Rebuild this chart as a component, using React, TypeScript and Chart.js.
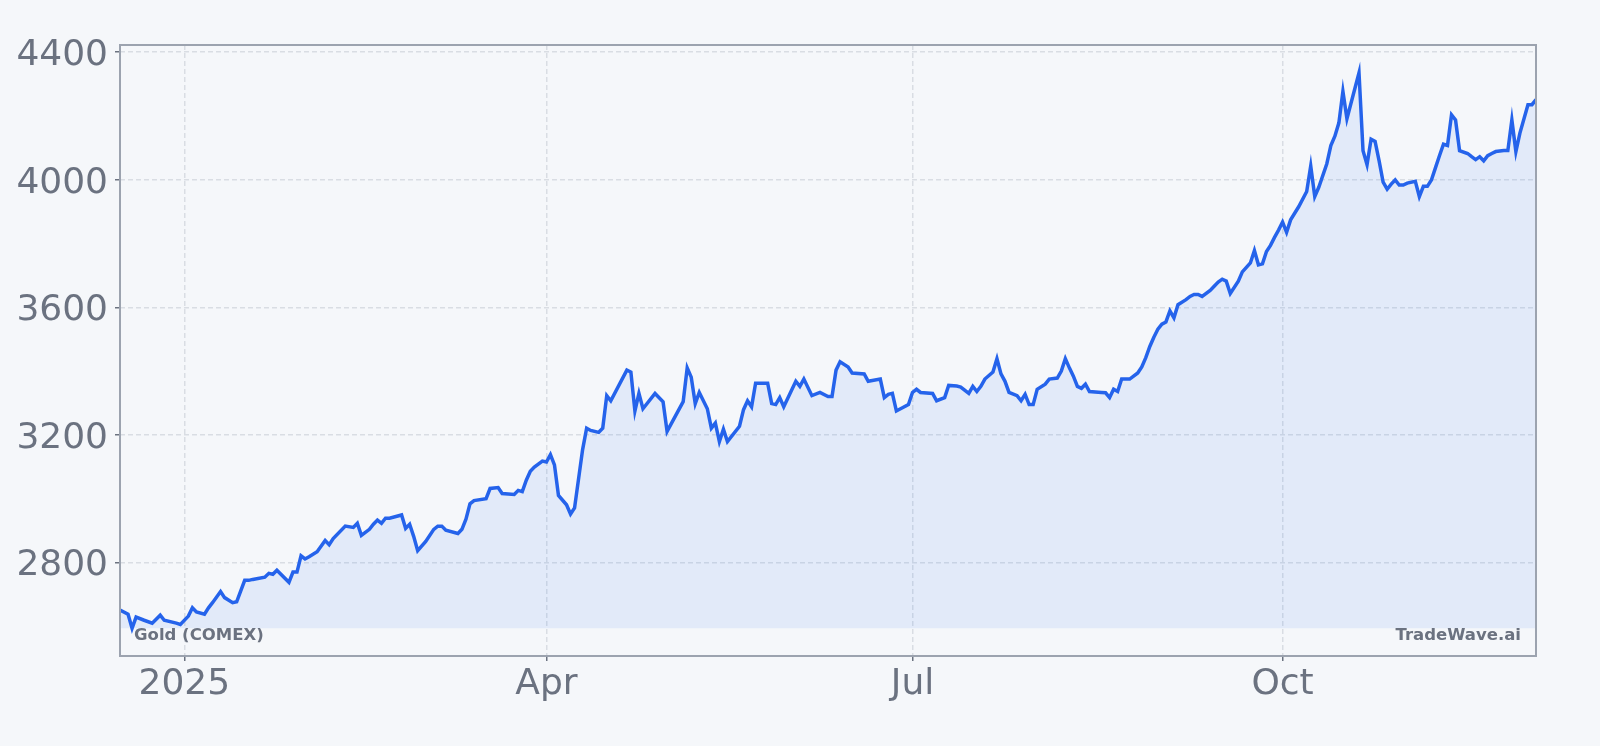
import React, { useEffect, useRef } from 'react';
import { Chart, registerables } from 'chart.js';

Chart.register(...registerables);

// x = calendar day counted from 1 Jan 2025 (day 0), y = settle price in USD/oz
const days = [
  -16, -14, -13, -12, -10, -8, -6, -5, -2, -1, 1, 2, 3, 5, 6, 7, 9, 10, 12, 13,
  15, 16, 17, 20, 21, 22, 23, 24, 26, 27, 28, 29, 30, 31, 33, 35, 36, 37, 40, 42,
  43, 44, 46, 47, 48, 49, 50, 51, 54, 55, 56, 57, 58, 60, 62, 63, 64, 65, 68, 69,
  70, 71, 72, 75, 76, 78, 79, 82, 83, 84, 85, 86, 87, 89, 90, 91, 92, 93, 95, 96,
  97, 99, 100, 101, 103, 104, 105, 106, 110, 111, 112, 113, 114, 117, 119, 120, 124, 125, 126, 127,
  128, 130, 131, 132, 133, 134, 135, 138, 139, 140, 141, 142, 145, 146, 147, 148, 149, 152, 153, 154,
  156, 158, 160, 161, 162, 163, 165, 166, 169, 170, 173, 174, 175, 176, 177, 180, 181, 182, 183, 186,
  187, 189, 190, 192, 193, 195, 196, 197, 198, 199, 201, 202, 203, 204, 205, 207, 208, 209, 210, 211,
  212, 214, 215, 217, 218, 219, 220, 221, 222, 223, 224, 225, 228, 229, 230, 231, 232, 233, 235, 237,
  238, 239, 240, 241, 242, 243, 244, 245, 246, 247, 249, 250, 251, 252, 253, 255, 256, 257, 258, 259,
  260, 262, 263, 265, 266, 267, 268, 269, 270, 271, 272, 273, 274, 275, 277, 279, 280, 281, 282, 284,
  285, 286, 287, 288, 289, 292, 293, 294, 295, 296, 297, 298, 299, 300, 301, 302, 303, 304, 306, 307,
  308, 309, 310, 311, 312, 313, 314, 315, 316, 317, 319, 320, 321, 322, 323, 324, 325, 326, 328, 329,
  330, 331, 332, 334, 335, 336,
];

const prices = [
  2651, 2638, 2594, 2629, 2619, 2610, 2635, 2619, 2610, 2606, 2632, 2658, 2645, 2638, 2658, 2674, 2709, 2690, 2674, 2677,
  2744, 2744, 2747, 2754, 2766, 2763, 2776, 2763, 2738, 2770, 2770, 2821, 2811, 2818, 2834, 2869, 2856, 2875, 2914, 2910,
  2923, 2885, 2904, 2920, 2933, 2923, 2939, 2939, 2949, 2907, 2920, 2882, 2837, 2866, 2904, 2914, 2914, 2901, 2891, 2904,
  2936, 2984, 2994, 3000, 3032, 3035, 3016, 3013, 3026, 3022, 3058, 3086, 3099, 3118, 3115, 3138, 3106, 3010, 2981, 2952,
  2971, 3154, 3221, 3214, 3208, 3221, 3323, 3307, 3403, 3397, 3275, 3330, 3282, 3330, 3304, 3211, 3304, 3410, 3381, 3298,
  3333, 3282, 3221, 3237, 3179, 3218, 3179, 3227, 3279, 3307, 3288, 3362, 3362, 3298, 3295, 3317, 3288, 3368, 3352, 3375,
  3323, 3333, 3320, 3320, 3403, 3429, 3413, 3394, 3391, 3368, 3375, 3317, 3327, 3330, 3275, 3295, 3333, 3343, 3333, 3330,
  3307, 3317, 3355, 3353, 3350, 3330, 3352, 3336, 3352, 3375, 3397, 3439, 3391, 3368, 3333, 3323, 3307, 3327, 3295, 3295,
  3343, 3359, 3375, 3378, 3400, 3439, 3410, 3384, 3352, 3346, 3359, 3336, 3333, 3332, 3317, 3343, 3336, 3375, 3375, 3394,
  3413, 3442, 3477, 3506, 3531, 3547, 3554, 3589, 3567, 3608, 3624, 3634, 3640, 3640, 3634, 3653, 3666, 3679, 3688, 3682,
  3643, 3682, 3711, 3739, 3778, 3733, 3736, 3775, 3794, 3819, 3842, 3867, 3835, 3874, 3915, 3963, 4043, 3947, 3976, 4050,
  4107, 4136, 4178, 4277, 4191, 4335, 4091, 4047, 4127, 4120, 4059, 3992, 3970, 3986, 3999, 3983, 3983, 3989, 3995, 3947,
  3979, 3979, 3999, 4037, 4075, 4111, 4107, 4203, 4187, 4091, 4082, 4072, 4063, 4072, 4059, 4075, 4082, 4088, 4091, 4091,
  4187, 4088, 4146, 4235, 4235, 4251,
];

// 1 Jan, 1 Apr, 1 Jul, 1 Oct
const tickDays = [0, 90, 181, 273];
const tickLabels = ['2025', 'Apr', 'Jul', 'Oct'];
const priceTicks = [2800, 3200, 3600, 4000, 4400];

const seriesName = 'Gold (COMEX)';
const brandName = 'TradeWave.ai';

const GRAY = '#6b7280';
const GRID = '#d9dde3';

const framePlugin = {
  id: 'frame',
  afterDatasetsDraw(chart: any) {
    const { ctx, chartArea: a } = chart;
    ctx.save();
    ctx.font = 'bold 16.5px "DejaVu Sans"';
    ctx.fillStyle = GRAY;
    ctx.textBaseline = 'alphabetic';
    ctx.textAlign = 'left';
    ctx.fillText(seriesName, a.left + 14, a.bottom - 16);
    ctx.textAlign = 'right';
    ctx.fillText(brandName, a.right - 15, a.bottom - 16);
    ctx.strokeStyle = '#9ca3af';
    ctx.lineWidth = 2;
    ctx.strokeRect(a.left, a.top, a.right - a.left, a.bottom - a.top);
    ctx.restore();
  },
};

const App: React.FC = () => {
  const canvasRef = useRef<HTMLCanvasElement | null>(null);

  useEffect(() => {
    if (!canvasRef.current) return;
    const ctx = canvasRef.current.getContext('2d');
    if (!ctx) return;

    Chart.defaults.font.family = '"DejaVu Sans"';

    const lo = Math.min(...prices);
    const hi = Math.max(...prices);
    const pad = (hi - lo) * 0.05;

    const chart = new Chart(ctx, {
      type: 'line',
      data: {
        datasets: [
          {
            label: seriesName,
            data: days.map((d, i) => ({ x: d, y: prices[i] })),
            borderColor: '#2563eb',
            borderWidth: 3.5,
            backgroundColor: 'rgba(59, 130, 246, 0.1)',
            fill: { value: lo },
            pointRadius: 0,
            tension: 0,
          },
        ],
      },
      options: {
        animation: false,
        responsive: true,
        maintainAspectRatio: false,
        layout: { padding: { top: 45, right: 64, left: 0, bottom: 0 } },
        plugins: {
          legend: { display: false },
          tooltip: { enabled: false },
        },
        scales: {
          x: {
            type: 'linear',
            min: days[0],
            max: days[days.length - 1],
            afterBuildTicks: (s: any) => {
              s.ticks = tickDays.map((v) => ({ value: v }));
            },
            afterFit: (s: any) => {
              s.height = 90;
            },
            ticks: {
              autoSkip: false,
              maxRotation: 0,
              padding: 2,
              color: GRAY,
              font: { size: 36 },
              callback: (v: any) => tickLabels[tickDays.indexOf(Number(v))] ?? '',
            },
            grid: {
              color: GRID,
              lineWidth: 1.5,
              tickLength: 5,
              tickColor: GRAY,
              tickBorderDash: [],
            },
            border: { display: false, dash: [5, 3] },
          },
          y: {
            type: 'linear',
            min: lo - pad,
            max: hi + pad,
            afterBuildTicks: (s: any) => {
              s.ticks = priceTicks.map((v) => ({ value: v }));
            },
            afterFit: (s: any) => {
              s.width = 120;
            },
            ticks: {
              padding: 7,
              labelOffset: 3.5,
              color: GRAY,
              font: { size: 36 },
              callback: (v: any) => String(v),
            },
            grid: {
              color: GRID,
              lineWidth: 1.5,
              tickLength: 5,
              tickColor: GRAY,
              tickBorderDash: [],
            },
            border: { display: false, dash: [5, 3] },
          },
        },
      },
      plugins: [framePlugin],
    });

    return () => {
      chart.destroy();
    };
  }, []);

  return (
    <div
      style={{
        position: 'fixed',
        left: 0,
        top: 0,
        width: '1600px',
        height: '746px',
        background: '#f5f7fa',
      }}
    >
      <canvas ref={canvasRef} />
    </div>
  );
};

export default App;
